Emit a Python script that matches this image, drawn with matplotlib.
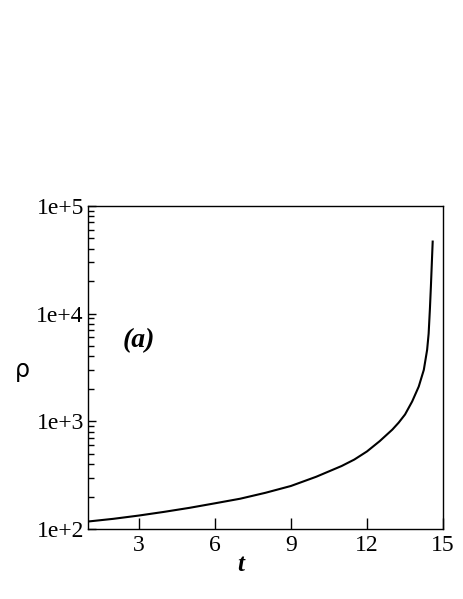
import numpy as np
import matplotlib.pyplot as plt
from matplotlib.ticker import FixedLocator, LogLocator, NullFormatter, NullLocator

t = [1, 2, 3, 4, 5, 6, 7, 8, 9, 10, 11, 11.5, 12, 12.5, 13, 13.25, 13.5,
     13.78, 14.04, 14.24, 14.37, 14.43, 14.48, 14.52, 14.555, 14.59]
rho = [118, 125, 134, 145, 158, 174, 192, 218, 252, 307, 386, 443, 527,
       656, 840, 975, 1160, 1530, 2104, 3006, 4600, 6500, 11000, 18000, 29000, 46500]

x_ticks = [3, 6, 9, 12, 15]
y_ticks = [1e2, 1e3, 1e4, 1e5]
y_labels = ['1e+2', '1e+3', '1e+4', '1e+5']

plt.rcParams['font.family'] = ['Liberation Serif', 'DejaVu Serif']

fig = plt.figure(figsize=(4.63, 5.99), dpi=100)
ax = fig.add_axes([0.190, 0.1164, 0.767, 0.5402])

ax.plot(t, rho, color='black', lw=1.5)
ax.set_yscale('log')
ax.set_xlim(1, 15)
ax.set_ylim(1e2, 1e5)

ax.set_xticks(x_ticks)
ax.set_xticklabels([str(v) for v in x_ticks])
ax.yaxis.set_major_locator(FixedLocator(y_ticks))
ax.set_yticklabels(y_labels)
ax.yaxis.set_minor_locator(LogLocator(base=10, subs=np.arange(2, 10)))
ax.yaxis.set_minor_formatter(NullFormatter())
ax.xaxis.set_minor_locator(NullLocator())

ax.tick_params(axis='both', which='both', direction='in', top=False, right=False,
               labelsize=17, width=1)
ax.tick_params(axis='x', which='major', length=8, pad=4)
ax.tick_params(axis='y', which='major', length=6, pad=3)
ax.tick_params(axis='y', which='minor', length=4)
for s in ax.spines.values():
    s.set_linewidth(1)

fig.text(0.048, 0.382, 'ρ', fontsize=17, family='DejaVu Sans', ha='center', va='center')
fig.text(0.519, 0.058, 't', fontsize=18, fontweight='bold', fontstyle='italic',
         ha='center', va='center')
ax.text(2.38, 5.6e3, '(a)', fontsize=20, fontweight='bold', fontstyle='italic',
        ha='left', va='center')

fig.savefig('out.png', dpi=100)
